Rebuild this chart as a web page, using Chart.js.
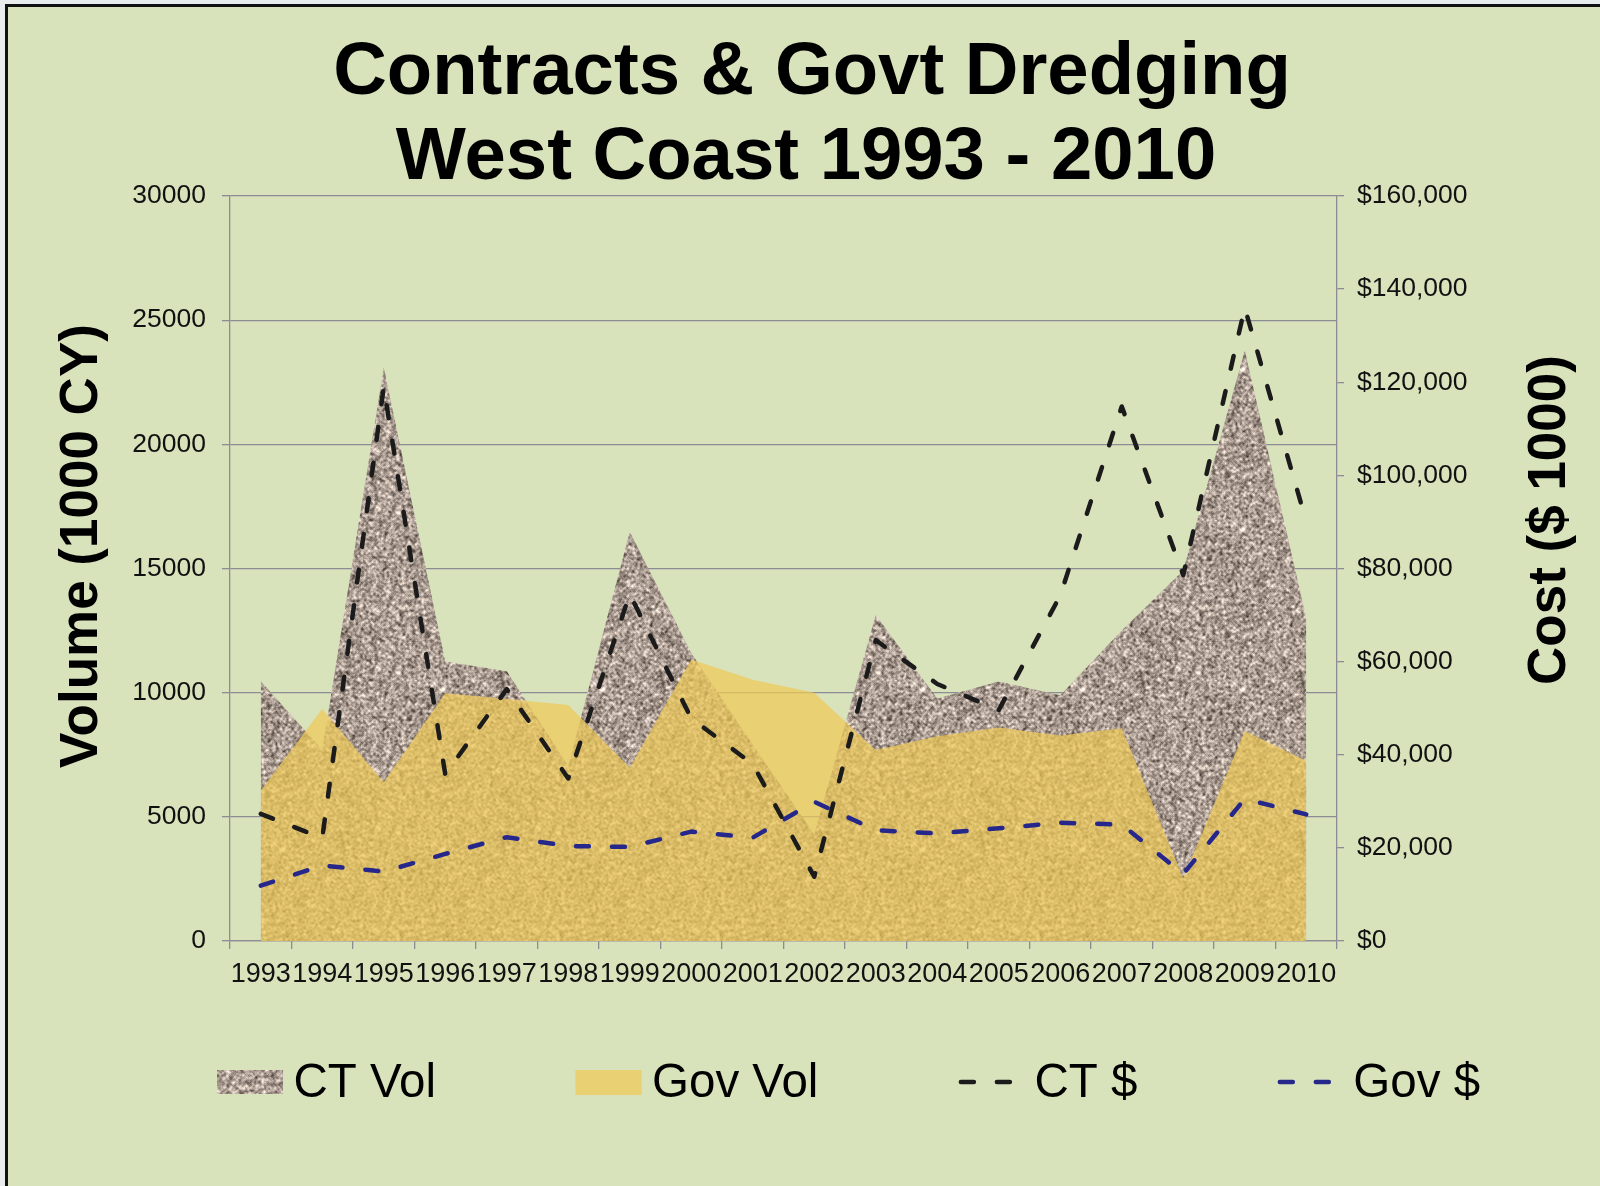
<!DOCTYPE html>
<html><head><meta charset="utf-8">
<style>html,body{margin:0;padding:0;background:#e9ecec;}canvas{display:block;}</style>
<script src="https://cdn.jsdelivr.net/npm/chart.js@4.4.1/dist/chart.umd.min.js"></script>
</head><body>
<canvas id="c" width="1600" height="1186"></canvas>
<script>
// ---- data ----
const years = ['1993','1994','1995','1996','1997','1998','1999','2000','2001','2002','2003','2004','2005','2006','2007','2008','2009','2010'];
const ctVol   = [10460, 7700, 23090, 11260, 10860, 7050, 16480, 11600, 7900, 4300, 13130, 9770, 10450, 9900, 12500, 14920, 23780, 13020];
const govVol  = [6070, 9340, 6390, 9980, 9750, 9500, 6980, 11340, 10520, 10000, 7690, 8250, 8600, 8280, 8570, 2520, 8460, 7260];
const ctCost  = [27300, 22100, 119000, 35800, 54100, 34900, 74500, 47800, 38000, 13800, 64600, 55200, 49600, 74200, 114800, 78600, 136000, 90100];
const govCost = [11900, 16200, 14900, 18700, 22300, 20400, 20200, 23500, 22200, 29900, 23800, 23100, 24200, 25400, 25000, 14400, 30500, 27200];
const volAxis  = {min: 0, max: 30000, step: 5000};
const costAxis = {min: 0, max: 160000, step: 20000};
const titleLines = ['Contracts & Govt Dredging', 'West Coast 1993 - 2010'];
const leftTitle = 'Volume (1000 CY)';
const rightTitle = 'Cost ($ 1000)';
const seriesNames = ['CT Vol', 'Gov Vol', 'CT $', 'Gov $'];

// ---- styling ----
const FAM = '"Liberation Sans", Arial, sans-serif';
const W = 1600, H = 1186;
const GRID = '#8c8c94';
const GOV_FILL = 'rgba(239,201,87,0.72)';
const CT_LINE = '#1b1b1b';
const GOV_LINE = '#25288a';
const DASH = [13, 23];

function makeGranite() {
  const N = 160;
  const cv = document.createElement('canvas'); cv.width = N; cv.height = N;
  const g = cv.getContext('2d');
  const img = g.createImageData(N, N);
  let s = 987654321;
  const rnd = () => { s = (s + 0x6D2B79F5) | 0; let t = Math.imul(s ^ (s >>> 15), 1 | s); t = (t + Math.imul(t ^ (t >>> 7), 61 | t)) ^ t; return ((t ^ (t >>> 14)) >>> 0) / 4294967296; };
  const base = new Float32Array(N * N);
  for (let i = 0; i < N * N; i++) base[i] = rnd();
  const blur = (src, r) => {
    const out = new Float32Array(N * N);
    for (let y = 0; y < N; y++) for (let x = 0; x < N; x++) {
      let sum = 0, c = 0;
      for (let dy = -r; dy <= r; dy++) for (let dx = -r; dx <= r; dx++) {
        sum += src[((y + dy + N) % N) * N + ((x + dx + N) % N)]; c++;
      }
      out[y * N + x] = sum / c;
    }
    return out;
  };
  const b = blur(base, 1);
  let m = 0, v = 0;
  for (let i = 0; i < N * N; i++) m += b[i]; m /= N * N;
  for (let i = 0; i < N * N; i++) v += (b[i] - m) ** 2; v = Math.sqrt(v / (N * N));
  for (let i = 0; i < N * N; i++) {
    const z = 0.8 * (b[i] - m) / v + 0.3 * (base[i] - 0.5) * 3.46;
    const r = 170 + z * 33, gg = 156 + z * 32, bb = 146 + z * 31;
    img.data[i * 4] = Math.max(0, Math.min(255, r));
    img.data[i * 4 + 1] = Math.max(0, Math.min(255, gg));
    img.data[i * 4 + 2] = Math.max(0, Math.min(255, bb));
    img.data[i * 4 + 3] = 255;
  }
  g.putImageData(img, 0, 0);
  return document.getElementById('c').getContext('2d').createPattern(cv, 'repeat');
}
const granite = makeGranite();

const fmtCost = v => '$' + String(v).replace(/\B(?=(\d{3})+(?!\d))/g, ',');

const decor = {
  id: 'decor',
  beforeDraw(chart) {
    const ctx = chart.ctx;
    ctx.save();
    ctx.fillStyle = '#e9ecec'; ctx.fillRect(0, 0, W, H);
    ctx.fillStyle = '#111111'; ctx.fillRect(5, 4, W - 5, H - 4);
    ctx.fillStyle = '#d8e2bb'; ctx.fillRect(8, 7, W - 8, H - 7);
    ctx.restore();
  },
  afterDraw(chart) {
    const ctx = chart.ctx;
    ctx.save();
    ctx.fillStyle = '#000';
    ctx.textAlign = 'center';
    ctx.textBaseline = 'alphabetic';
    ctx.font = 'bold 74.3px ' + FAM;
    ctx.fillText(titleLines[0], 812, 94);
    ctx.fillText(titleLines[1], 806, 179);

    ctx.font = 'bold 53px ' + FAM;
    ctx.save(); ctx.translate(97, 546); ctx.rotate(-Math.PI / 2); ctx.fillText(leftTitle, 0, 0); ctx.restore();
    ctx.font = 'bold 53px ' + FAM;
    ctx.save(); ctx.translate(1565, 520); ctx.rotate(-Math.PI / 2); ctx.fillText(rightTitle, 0, 0); ctx.restore();

    // legend
    ctx.font = '47.5px ' + FAM;
    ctx.textAlign = 'left';
    let x = 217;
    const baseY = 1097, midY = 1082;
    seriesNames.forEach((name, i) => {
      if (i === 0) { ctx.fillStyle = granite; ctx.fillRect(x, 1070, 66, 24); }
      else if (i === 1) { ctx.fillStyle = GOV_FILL; ctx.fillRect(x, 1070, 66, 25); }
      else {
        ctx.save();
        ctx.strokeStyle = i === 2 ? CT_LINE : GOV_LINE;
        ctx.lineWidth = 4.5; ctx.lineCap = 'round'; ctx.setLineDash(DASH);
        ctx.beginPath(); ctx.moveTo(x + 3, midY); ctx.lineTo(x + 55, midY); ctx.stroke();
        ctx.restore();
      }
      ctx.fillStyle = '#000';
      const tx = x + 76.5;
      ctx.fillText(name, tx, baseY);
      x = tx + ctx.measureText(name).width + 139.5;
    });
    ctx.restore();
  }
};

const tickFont = {family: FAM, size: 26.5};
new Chart(document.getElementById('c'), {
  type: 'line',
  data: {
    labels: years,
    datasets: [
      {label: seriesNames[0], data: ctVol, yAxisID: 'y', fill: 'origin', backgroundColor: granite, borderColor: 'transparent', borderWidth: 0, pointRadius: 0, tension: 0, order: 4},
      {label: seriesNames[1], data: govVol, yAxisID: 'y', fill: 'origin', backgroundColor: GOV_FILL, borderColor: 'transparent', borderWidth: 0, pointRadius: 0, tension: 0, order: 3},
      {label: seriesNames[2], data: ctCost, yAxisID: 'y1', fill: false, borderColor: CT_LINE, borderWidth: 4.5, borderDash: DASH, borderCapStyle: 'round', borderJoinStyle: 'round', pointRadius: 0, tension: 0, order: 1},
      {label: seriesNames[3], data: govCost, yAxisID: 'y1', fill: false, borderColor: GOV_LINE, borderWidth: 4.5, borderDash: DASH, borderCapStyle: 'round', borderJoinStyle: 'round', pointRadius: 0, tension: 0, order: 2}
    ]
  },
  options: {
    responsive: false, animation: false, devicePixelRatio: 1,
    layout: {padding: {top: 196, left: 0, right: 0, bottom: 0}},
    plugins: {legend: {display: false}, title: {display: false}, tooltip: {enabled: false}},
    events: [],
    scales: {
      x: {
        type: 'category', offset: true,
        grid: {offset: true, drawOnChartArea: false, drawTicks: true, tickLength: 8, color: GRID, lineWidth: 1.3},
        border: {color: GRID, width: 1.3},
        ticks: {autoSkip: false, maxRotation: 0, minRotation: 0, padding: 9, color: '#111', font: {family: FAM, size: 27}},
        afterFit(s) { s.height = 245; }
      },
      y: {
        position: 'left', min: volAxis.min, max: volAxis.max,
        grid: {color: GRID, lineWidth: 1.3, tickLength: 8},
        border: {color: GRID, width: 1.3},
        ticks: {stepSize: volAxis.step, padding: 16, color: '#111', font: tickFont, callback: v => String(v)},
        afterFit(s) { s.width = 230; }
      },
      y1: {
        position: 'right', min: costAxis.min, max: costAxis.max,
        grid: {drawOnChartArea: false, color: GRID, lineWidth: 1.3, tickLength: 7},
        border: {color: GRID, width: 1.3},
        ticks: {stepSize: costAxis.step, padding: 13, color: '#111', font: tickFont, callback: v => fmtCost(v)},
        afterFit(s) { s.width = 263; }
      }
    }
  },
  plugins: [decor]
});
</script>
</body></html>
